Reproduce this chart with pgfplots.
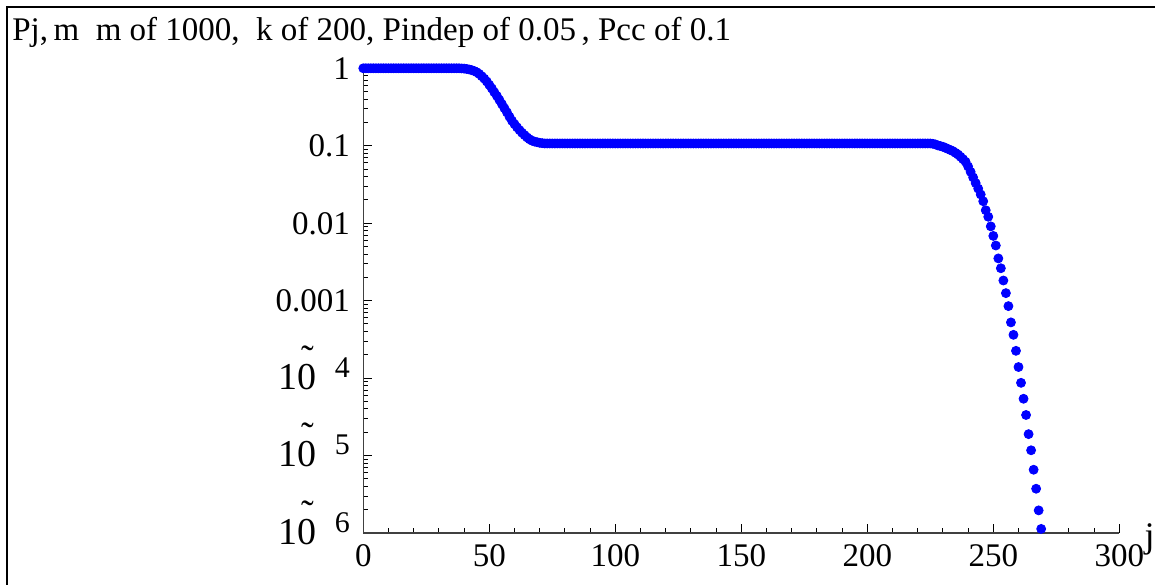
\documentclass[border=0pt]{standalone}
\usepackage{fontspec}
\setmainfont{Liberation Serif}
\usepackage{pgfplots}
\pgfplotsset{compat=1.18}
% negative powers of ten, set the way the original front end renders them:
% a stray tilde over the 0 and the exponent floating to the right
\newcommand{\negpow}[1]{{\fontsize{19}{21}\selectfont 1\makebox[0pt][l]{\hspace{0.09em}\raisebox{0.47em}{\char"02DC}}0}\hspace{9pt}\raisebox{6pt}{\fontsize{15}{18}\selectfont #1}}
\begin{document}
\fontsize{16.5}{20}\selectfont
\begin{tikzpicture}
\useasboundingbox (-181.65pt,-25.5pt) rectangle (395.85pt,266.5pt);
\draw[line width=1pt] (-178.15pt,-40pt) rectangle (420pt,263pt);
\begin{axis}[
  at={(0pt,0pt)}, anchor=south west,
  scale only axis, width=378pt, height=232.7pt,
  xmin=0, xmax=300, ymin=1e-6, ymax=1.02,
  ymode=log,
  axis lines=left,
  axis line style={-, black!75, line width=0.7pt},
  tick align=inside,
  major tick length=4.5pt, minor tick length=2.5pt,
  every tick/.style={black, line width=0.5pt},
  xtick={0,50,100,150,200,250,300}, minor x tick num=4,
  ytick={1e-6,1e-5,1e-4,1e-3,1e-2,1e-1,1},
  yticklabels={\negpow{6},\negpow{5},\negpow{4},0.001,0.01,0.1,1},
  minor ytick={2e-6,3e-6,4e-6,5e-6,6e-6,7e-6,8e-6,9e-6,
               2e-5,3e-5,4e-5,5e-5,6e-5,7e-5,8e-5,9e-5,
               2e-4,3e-4,4e-4,5e-4,6e-4,7e-4,8e-4,9e-4,
               2e-3,3e-3,4e-3,5e-3,6e-3,7e-3,8e-3,9e-3,
               2e-2,3e-2,4e-2,5e-2,6e-2,7e-2,8e-2,9e-2,
               0.2,0.3,0.4,0.5,0.6,0.7,0.8,0.9},
  /pgf/number format/assume math mode=true,
  xticklabel style={inner sep=0pt, yshift=-5.5pt},
  yticklabel style={anchor=base east, inner sep=0pt, xshift=-6.5pt, yshift=-5.5pt},
  clip=false,
]
\addplot[only marks, mark=*, mark size=2.25pt, color=blue, mark options={draw=blue, fill=blue}] coordinates {
(0,1) (1,1) (2,1) (3,1) (4,1) (5,1) (6,1) (7,1) (8,1) (9,1)
(10,1) (11,1) (12,1) (13,1) (14,1) (15,1) (16,1) (17,1) (18,1) (19,1)
(20,1) (21,1) (22,1) (23,1) (24,1) (25,1) (26,1) (27,1) (28,1) (29,1)
(30,1) (31,1) (32,1) (33,1) (34,1) (35,1) (36,1) (37,1) (38,1) (39,0.995)
(40,0.99) (41,0.98) (42,0.966) (43,0.947) (44,0.922) (45,0.89) (46,0.845) (47,0.79) (48,0.735) (49,0.675)
(50,0.61) (51,0.55) (52,0.49) (53,0.44) (54,0.39) (55,0.345) (56,0.305) (57,0.27) (58,0.237) (59,0.21)
(60,0.19) (61,0.173) (62,0.159) (63,0.147) (64,0.137) (65,0.128) (66,0.121) (67,0.116) (68,0.113) (69,0.111)
(70,0.109) (71,0.108) (72,0.107) (73,0.107) (74,0.107) (75,0.107) (76,0.107) (77,0.107) (78,0.107) (79,0.107)
(80,0.107) (81,0.107) (82,0.107) (83,0.107) (84,0.107) (85,0.107) (86,0.107) (87,0.107) (88,0.107) (89,0.107)
(90,0.107) (91,0.107) (92,0.107) (93,0.107) (94,0.107) (95,0.107) (96,0.107) (97,0.107) (98,0.107) (99,0.107)
(100,0.107) (101,0.107) (102,0.107) (103,0.107) (104,0.107) (105,0.107) (106,0.107) (107,0.107) (108,0.107) (109,0.107)
(110,0.107) (111,0.107) (112,0.107) (113,0.107) (114,0.107) (115,0.107) (116,0.107) (117,0.107) (118,0.107) (119,0.107)
(120,0.107) (121,0.107) (122,0.107) (123,0.107) (124,0.107) (125,0.107) (126,0.107) (127,0.107) (128,0.107) (129,0.107)
(130,0.107) (131,0.107) (132,0.107) (133,0.107) (134,0.107) (135,0.107) (136,0.107) (137,0.107) (138,0.107) (139,0.107)
(140,0.107) (141,0.107) (142,0.107) (143,0.107) (144,0.107) (145,0.107) (146,0.107) (147,0.107) (148,0.107) (149,0.107)
(150,0.107) (151,0.107) (152,0.107) (153,0.107) (154,0.107) (155,0.107) (156,0.107) (157,0.107) (158,0.107) (159,0.107)
(160,0.107) (161,0.107) (162,0.107) (163,0.107) (164,0.107) (165,0.107) (166,0.107) (167,0.107) (168,0.107) (169,0.107)
(170,0.107) (171,0.107) (172,0.107) (173,0.107) (174,0.107) (175,0.107) (176,0.107) (177,0.107) (178,0.107) (179,0.107)
(180,0.107) (181,0.107) (182,0.107) (183,0.107) (184,0.107) (185,0.107) (186,0.107) (187,0.107) (188,0.107) (189,0.107)
(190,0.107) (191,0.107) (192,0.107) (193,0.107) (194,0.107) (195,0.107) (196,0.107) (197,0.107) (198,0.107) (199,0.107)
(200,0.107) (201,0.107) (202,0.107) (203,0.107) (204,0.107) (205,0.107) (206,0.107) (207,0.107) (208,0.107) (209,0.107)
(210,0.107) (211,0.107) (212,0.107) (213,0.107) (214,0.107) (215,0.107) (216,0.107) (217,0.107) (218,0.107) (219,0.107)
(220,0.107) (221,0.107) (222,0.107) (223,0.107) (224,0.107) (225,0.107) (226,0.106) (227,0.104) (228,0.101) (229,0.099)
(230,0.097) (231,0.094) (232,0.091) (233,0.088) (234,0.085) (235,0.081) (236,0.077) (237,0.072) (238,0.067) (239,0.062)
(240,0.054) (241,0.046) (242,0.039) (243,0.033) (244,0.028) (245,0.0235) (246,0.0192) (247,0.0147) (248,0.0121) (249,0.0091)
(250,0.00685) (251,0.00515) (252,0.00351) (253,0.00262) (254,0.00182) (255,0.00125) (256,8.5e-4) (257,5.24e-4) (258,3.62e-4) (259,2.25e-4)
(260,1.39e-4) (261,8.69e-5) (262,5.41e-5) (263,3.34e-5) (264,1.89e-5) (265,1.17e-5) (266,6.56e-6) (267,3.73e-6) (268,1.96e-6) (269,1.13e-6)
};
\end{axis}
\node[anchor=base west, inner sep=0pt] at (-175.65pt,246pt) {Pj,\,m\ \ m of 1000,\ \ k of 200, Pindep of 0.05\,, Pcc of 0.1};
\node[anchor=base west, inner sep=0pt, font=\fontsize{18}{20}\selectfont] at (390.5pt,-7pt) {j};
\end{tikzpicture}
\end{document}
